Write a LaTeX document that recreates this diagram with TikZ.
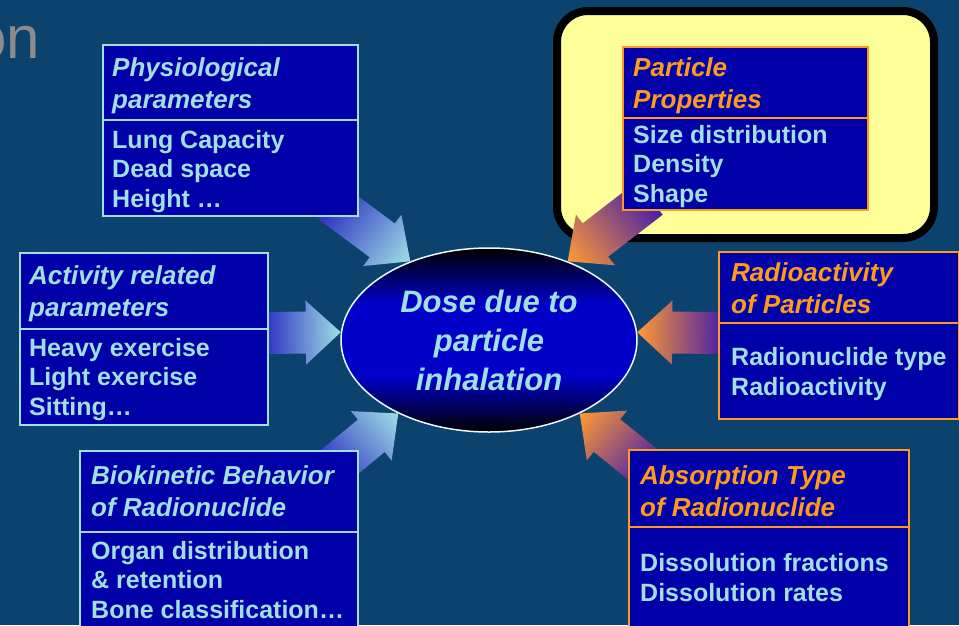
\documentclass[tikz,border=0pt]{standalone}
\usepackage{fontspec}
\setmainfont{Liberation Sans}
\usepackage{tikz}
\usetikzlibrary{shapes.geometric,calc}
\definecolor{bgblue}{HTML}{0C436E}
\definecolor{boxblue}{HTML}{0000A8}
\definecolor{cyanline}{HTML}{9FDFE5}
\definecolor{orangeline}{HTML}{FF9A1E}
\definecolor{paleyellow}{HTML}{FFFF99}
\definecolor{tailblue}{HTML}{2A2AC0}
\definecolor{tailviolet}{HTML}{4A1FA8}
\definecolor{headorange}{HTML}{FF9A33}
\definecolor{ellblue}{HTML}{0000C8}
\definecolor{greytext}{HTML}{8C8C8C}
\pgfdeclareverticalshading{doseshade}{100bp}{color(0bp)=(black); color(25bp)=(black); color(40bp)=(ellblue); color(60bp)=(ellblue); color(75bp)=(black); color(100bp)=(black)}
% block arrow from #1 to #2, shaded from #3 to #4
\newcommand\blockarrow[4]{%
  \path let \p1=($(#2)-(#1)$) in \pgfextra{%
    \pgfmathsetmacro\arrang{atan2(\y1,\x1)}%
    \pgfmathsetmacro\arrlen{veclen(\x1,\y1)}%
    \global\let\arrang\arrang \global\let\arrlen\arrlen};
  \begin{scope}[transform canvas={shift={(#2)},rotate=\arrang}]
    \shade[left color=#3,right color=#4] (-\arrlen,-21)--(-35,-21)--(-35,-32)--(0,0)--(-35,32)--(-35,21)--(-\arrlen,21)--cycle;
  \end{scope}}

\begin{document}
\begin{tikzpicture}[x=1pt,y=-1pt,
    box/.style={draw=#1,fill=boxblue,line width=1.5,anchor=north west,inner sep=0},
    head/.style={text=#1,font=\fontsize{26}{32}\selectfont\bfseries\itshape,align=left,anchor=base west,inner sep=0},
    body/.style={text=cyanline,font=\fontsize{25}{29.5}\selectfont\bfseries,align=left,anchor=base west,inner sep=0}]
  \fill[bgblue] (0,0) rectangle (959,625);
  \useasboundingbox (0,0) rectangle (959,625);
  \node[text=greytext,font=\fontsize{60}{60}\selectfont,anchor=base east,inner sep=0] (title) at (40,58) {on}; % cut-off title
  \draw[line width=8,fill=paleyellow,rounded corners=31] (557,11) rectangle (934,238); % highlight
  % centre ellipse
  \node[ellipse,shade,shading=doseshade,draw=white!80!cyanline,line width=1.5,minimum width=296,minimum height=184,inner sep=0,
        text=cyanline,font=\fontsize{31}{39}\selectfont\bfseries\itshape,align=center] (dose) at (489,340) {Dose due to\\particle\\inhalation};
  % arrow tails (hidden under the boxes)
  \coordinate (physout) at (328,200);
  \coordinate (actout) at (262,333);
  \coordinate (bioout) at (325,474);
  \coordinate (partout) at (650,198);
  \coordinate (radout) at (722,333);
  \coordinate (absout) at (652,472);
  \blockarrow{physout}{dose.135}{tailblue}{cyanline}
  \blockarrow{actout}{dose.177}{tailblue}{cyanline}
  \blockarrow{bioout}{dose.219}{tailblue}{cyanline}
  \blockarrow{partout}{dose.45}{tailviolet}{headorange}
  \blockarrow{radout}{dose.3}{tailviolet}{headorange}
  \blockarrow{absout}{dose.321}{tailviolet}{headorange}
  % left boxes (text nodes sit on the baseline of their last line)
  \node[box=cyanline,minimum width=255,minimum height=171] (phys) at (102,44) {};
  \draw[cyanline,line width=1.5] (102,120) -- (357,120);
  \node[head=cyanline] (physhead) at (112,108) {Physiological\\parameters};
  \node[body] (physbody) at (112,207) {Lung Capacity\\Dead space\\Height \dots};
  \node[box=cyanline,minimum width=248,minimum height=172] (act) at (19,252) {};
  \draw[cyanline,line width=1.5] (19,329) -- (267,329);
  \node[head=cyanline] (acthead) at (29,316) {Activity related\\parameters};
  \node[body] (actbody) at (29,415) {Heavy exercise\\Light exercise\\Sitting\dots};
  \node[box=cyanline,minimum width=278,minimum height=200] (bio) at (79,450) {};
  \draw[cyanline,line width=1.5] (79,532) -- (357,532);
  \node[head=cyanline] (biohead) at (91,516) {Biokinetic Behavior\\of Radionuclide};
  \node[body] (biobody) at (91,618) {Organ distribution\\\& retention\\Bone classification\dots};
  % right boxes
  \node[box=orangeline,minimum width=245,minimum height=163] (part) at (622,46) {};
  \draw[orangeline,line width=1.5] (622,118) -- (867,118);
  \node[head=orangeline] (parthead) at (633,108) {Particle\\Properties};
  \node[body] (partbody) at (633,202) {Size distribution\\Density\\Shape};
  \node[box=orangeline,minimum width=240,minimum height=167] (rad) at (718,251) {};
  \draw[orangeline,line width=1.5] (718,323) -- (958,323);
  \node[head=orangeline] (radhead) at (731,313) {Radioactivity\\of Particles};
  \node[body] (radbody) at (731,395) {Radionuclide type\\Radioactivity};
  \node[box=orangeline,minimum width=280,minimum height=200] (abs) at (628,449) {};
  \draw[orangeline,line width=1.5] (628,527) -- (908,527);
  \node[head=orangeline] (abshead) at (640,516) {Absorption Type\\of Radionuclide};
  \node[body] (absbody) at (640,601) {Dissolution fractions\\Dissolution rates};
\end{tikzpicture}
\end{document}
